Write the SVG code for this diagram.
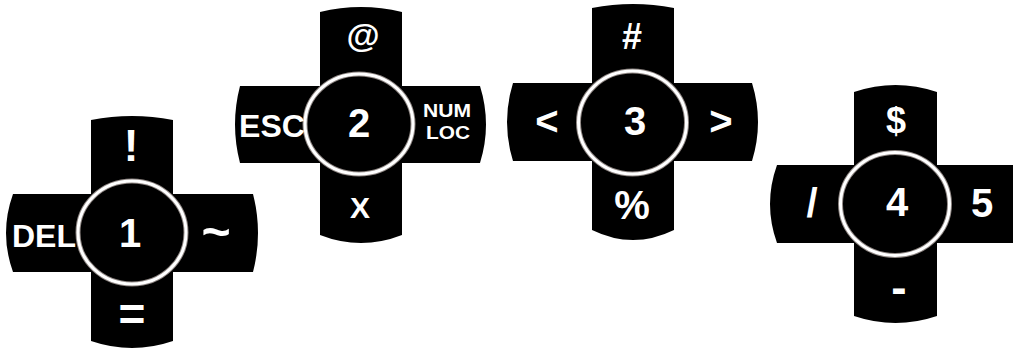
<svg xmlns="http://www.w3.org/2000/svg" width="1013" height="349" viewBox="0 0 1013 349">
<style>
.pad{fill:#000}
.ringo{fill:none;stroke:#8f8784;stroke-width:5}
.ringi{fill:none;stroke:#fff;stroke-width:3}
text{font-family:"Liberation Sans",Arial,sans-serif;font-weight:bold;fill:#fff;text-anchor:middle}
.num{font-size:40px}
.lbl{font-size:32px}
.sm{font-size:19px}
</style>
<rect width="1013" height="349" fill="#fff"/>
<g id="key1">
<path class="pad" d="M91 120 Q132 112 173 120 L173 194 L253 194 Q263 233 253 272 L173 272 L173 341 Q132 355 91 341 L91 272 L13 272 Q-1 233 13 194 L91 194 Z"/>
<ellipse class="ringo" cx="132" cy="232.5" rx="54" ry="51.5"/>
<ellipse class="ringi" cx="132" cy="232.5" rx="54" ry="51.5"/>
<text class="num" x="130" y="247">1</text>
<text style="font-size:44px" x="131" y="161">!</text>
<text class="lbl" x="44" y="247">DEL</text>
<text style="font-size:50px" x="216" y="249">~</text>
<text style="font-size:46px" x="132" y="330">=</text>
</g>
<g id="key2">
<path class="pad" d="M320 12 Q361 2 402 12 L402 86 L480 86 Q492 124.5 480 163 L402 163 L402 235 Q361 251 320 235 L320 163 L240 163 Q230 124.5 240 86 L320 86 Z"/>
<ellipse class="ringo" cx="359" cy="124" rx="54" ry="50"/>
<ellipse class="ringi" cx="359" cy="124" rx="54" ry="50"/>
<text class="num" x="359" y="137">2</text>
<text style="font-size:34px" x="363" y="47">@</text>
<text class="lbl" x="272" y="137">ESC</text>
<text class="sm" x="447" y="117" textLength="48" lengthAdjust="spacingAndGlyphs">NUM</text>
<text class="sm" x="448" y="139" textLength="44" lengthAdjust="spacingAndGlyphs">LOC</text>
<text style="font-size:30px" x="360" y="218">X</text>
</g>
<g id="key3">
<path class="pad" d="M592 8 Q633 0 674 8 L674 83 L752 83 Q764 122 752 161 L674 161 L674 230 Q633 250 592 230 L592 161 L513 161 Q501 122 513 83 L592 83 Z"/>
<ellipse class="ringo" cx="632.5" cy="122.5" rx="54" ry="51.5"/>
<ellipse class="ringi" cx="632.5" cy="122.5" rx="54" ry="51.5"/>
<text class="num" x="635" y="135">3</text>
<text style="font-size:36px" x="632" y="49">#</text>
<text class="num" x="547" y="135">&lt;</text>
<text class="num" x="721" y="135">&gt;</text>
<text class="num" x="632" y="219">%</text>
</g>
<g id="key4">
<path class="pad" d="M854 92 Q895.5 78 937 92 L937 165 L1013 165 L1013 243 L937 243 L937 316 Q895.5 330 854 316 L854 243 L777 243 Q763 204 777 165 L854 165 Z"/>
<ellipse class="ringo" cx="895" cy="204" rx="54.5" ry="51.5"/>
<ellipse class="ringi" cx="895" cy="204" rx="54.5" ry="51.5"/>
<text class="num" x="897" y="216">4</text>
<text style="font-size:36px" x="896" y="133">$</text>
<text class="num" x="812" y="217">/</text>
<text class="num" x="982" y="217">5</text>
<text style="font-size:46px" x="899" y="303">-</text>
</g>
</svg>
